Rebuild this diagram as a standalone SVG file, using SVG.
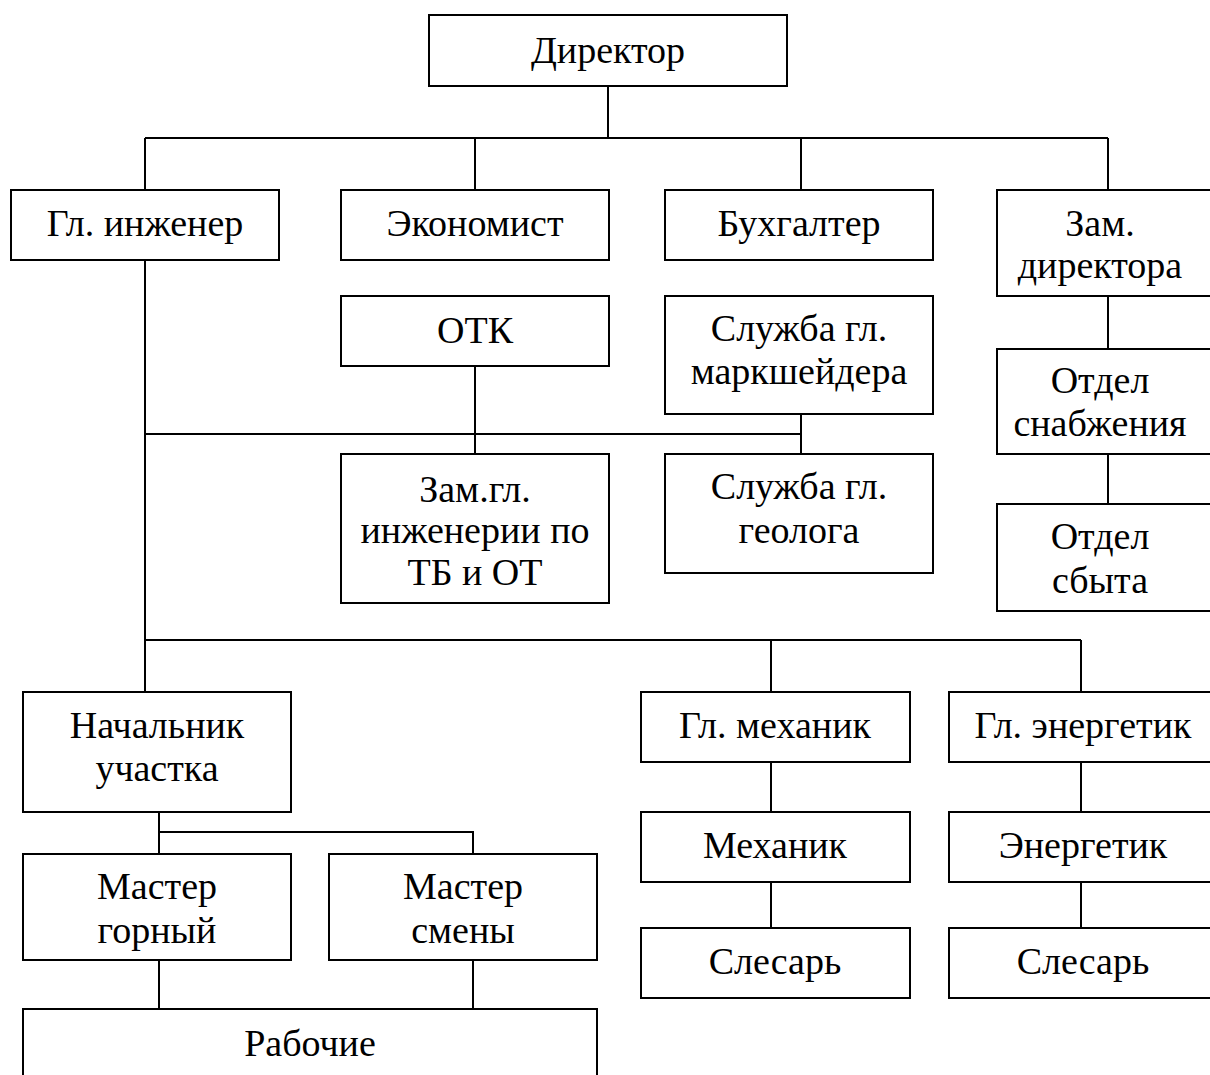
<svg xmlns="http://www.w3.org/2000/svg" width="1210" height="1075" viewBox="0 0 1210 1075">
<style>
.box{fill:#fff;stroke:#000;stroke-width:2}
.t{font-family:"Liberation Serif","Times New Roman",serif;font-size:38px;text-anchor:middle;fill:#000}
.c{fill:none;stroke:#000;stroke-width:2}
</style>
<rect x="0" y="0" width="1210" height="1075" fill="#fff"/>
<g id="connectors">
<path class="c" d="M608 86V138M145 138H1108M145 138V190M475 138V190M801 138V190M1108 138V190"/>
<path class="c" d="M145 260V640M145 434H801M475 366V454M801 414V454"/>
<path class="c" d="M1108 296V349M1108 454V504"/>
<path class="c" d="M145 640H1081M145 640V692M771 640V692M1081 640V692"/>
<path class="c" d="M159 812V832H473V854M159 832V854M159 960V1009M473 960V1009"/>
<path class="c" d="M771 762V812M771 882V928M1081 762V812M1081 882V928"/>
</g>
<g id="director"><rect class="box" x="429" y="15" width="358" height="71"/><text class="t" x="608" y="63">Директор</text></g>
<g id="gl-inzhener"><rect class="box" x="11" y="190" width="268" height="70"/><text class="t" x="145" y="236">Гл. инженер</text></g>
<g id="ekonomist"><rect class="box" x="341" y="190" width="268" height="70"/><text class="t" x="475" y="236">Экономист</text></g>
<g id="bukhgalter"><rect class="box" x="665" y="190" width="268" height="70"/><text class="t" x="799" y="236">Бухгалтер</text></g>
<g id="zam-direktora"><rect class="box" x="997" y="190" width="222" height="106"/><text class="t" x="1100" y="236">Зам.</text><text class="t" x="1100" y="278">директора</text></g>
<g id="otk"><rect class="box" x="341" y="296" width="268" height="70"/><text class="t" x="475" y="343">ОТК</text></g>
<g id="sl-marksheidera"><rect class="box" x="665" y="296" width="268" height="118"/><text class="t" x="799" y="341">Служба гл.</text><text class="t" x="799" y="384">маркшейдера</text></g>
<g id="otdel-snabzheniya"><rect class="box" x="997" y="349" width="222" height="105"/><text class="t" x="1100" y="393">Отдел</text><text class="t" x="1100" y="436">снабжения</text></g>
<g id="zam-gl-inzh"><rect class="box" x="341" y="454" width="268" height="149"/><text class="t" x="475" y="502">Зам.гл.</text><text class="t" x="475" y="543">инженерии по</text><text class="t" x="475" y="585">ТБ и ОТ</text></g>
<g id="sl-geologa"><rect class="box" x="665" y="454" width="268" height="119"/><text class="t" x="799" y="499">Служба гл.</text><text class="t" x="799" y="543">геолога</text></g>
<g id="otdel-sbyta"><rect class="box" x="997" y="504" width="222" height="107"/><text class="t" x="1100" y="549">Отдел</text><text class="t" x="1100" y="593">сбыта</text></g>
<g id="nachalnik"><rect class="box" x="23" y="692" width="268" height="120"/><text class="t" x="157" y="738">Начальник</text><text class="t" x="157" y="781">участка</text></g>
<g id="gl-mekhanik"><rect class="box" x="641" y="692" width="269" height="70"/><text class="t" x="775" y="738">Гл. механик</text></g>
<g id="gl-energetik"><rect class="box" x="949" y="692" width="270" height="70"/><text class="t" x="1083" y="738">Гл. энергетик</text></g>
<g id="mekhanik"><rect class="box" x="641" y="812" width="269" height="70"/><text class="t" x="775" y="858">Механик</text></g>
<g id="energetik"><rect class="box" x="949" y="812" width="270" height="70"/><text class="t" x="1083" y="858">Энергетик</text></g>
<g id="master-gorny"><rect class="box" x="23" y="854" width="268" height="106"/><text class="t" x="157" y="899">Мастер</text><text class="t" x="157" y="943">горный</text></g>
<g id="master-smeny"><rect class="box" x="329" y="854" width="268" height="106"/><text class="t" x="463" y="899">Мастер</text><text class="t" x="463" y="943">смены</text></g>
<g id="slesar-1"><rect class="box" x="641" y="928" width="269" height="70"/><text class="t" x="775" y="974">Слесарь</text></g>
<g id="slesar-2"><rect class="box" x="949" y="928" width="270" height="70"/><text class="t" x="1083" y="974">Слесарь</text></g>
<g id="rabochie"><rect class="box" x="23" y="1009" width="574" height="80"/><text class="t" x="310" y="1056">Рабочие</text></g>
</svg>
